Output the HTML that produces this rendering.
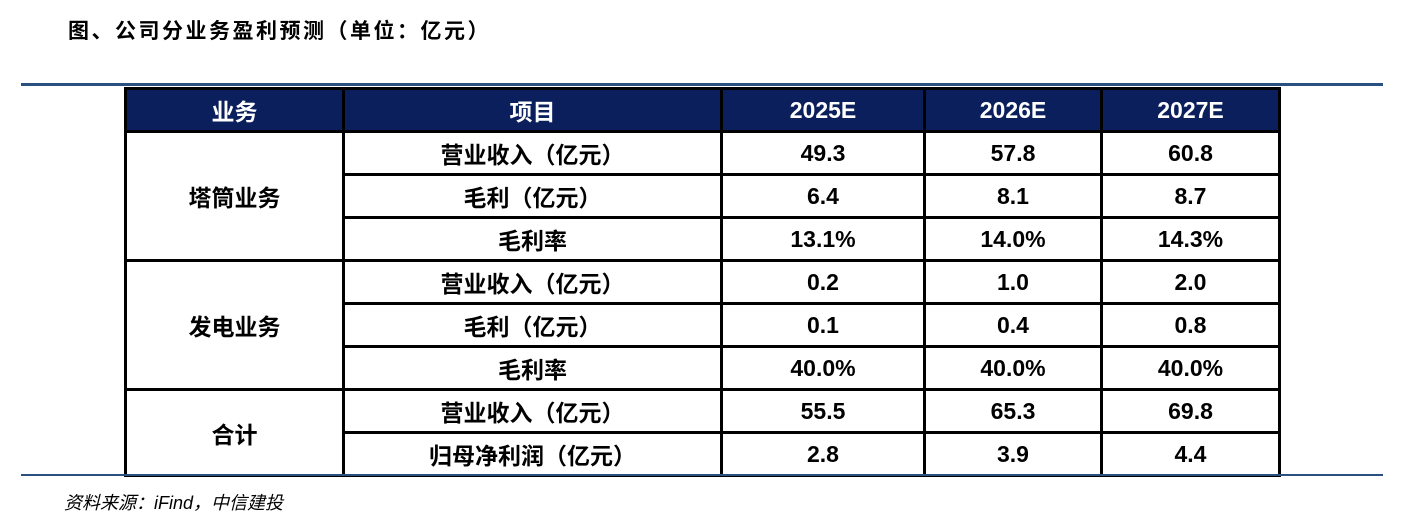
<!DOCTYPE html>
<html><head><meta charset="utf-8"><style>
body{margin:0;width:1406px;height:522px;background:#fff;position:relative;overflow:hidden;font-family:"Liberation Sans","Noto Sans CJK SC",sans-serif;}
.title{position:absolute;left:68px;top:15px;font-size:21px;letter-spacing:2.5px;font-weight:bold;color:#000;}
.line{position:absolute;background:#2a5080;}
table{position:absolute;left:124px;top:87px;border-collapse:collapse;table-layout:fixed;}
td,th{border:3px solid #000;text-align:center;font-size:23px;font-weight:bold;padding:0;height:40px;color:#000;}
th{background:#0b1f5c;color:#fff;border-color:#000;}
th+th{border-left:3px solid #fff;}
.src{position:absolute;left:64px;top:489px;font-size:18px;font-style:italic;color:#000;}
</style></head><body>
<div class="title">图、公司分业务盈利预测（单位：亿元）</div>
<div class="line" style="left:21px;top:83px;width:1362px;height:3px"></div>
<table>
<colgroup><col style="width:218px"><col style="width:378px"><col style="width:203px"><col style="width:177px"><col style="width:178px"></colgroup>
<tr><th>业务</th><th>项目</th><th>2025E</th><th>2026E</th><th>2027E</th></tr>
<tr><td rowspan="3">塔筒业务</td><td>营业收入（亿元）</td><td>49.3</td><td>57.8</td><td>60.8</td></tr>
<tr><td>毛利（亿元）</td><td>6.4</td><td>8.1</td><td>8.7</td></tr>
<tr><td>毛利率</td><td>13.1%</td><td>14.0%</td><td>14.3%</td></tr>
<tr><td rowspan="3">发电业务</td><td>营业收入（亿元）</td><td>0.2</td><td>1.0</td><td>2.0</td></tr>
<tr><td>毛利（亿元）</td><td>0.1</td><td>0.4</td><td>0.8</td></tr>
<tr><td>毛利率</td><td>40.0%</td><td>40.0%</td><td>40.0%</td></tr>
<tr><td rowspan="2">合计</td><td>营业收入（亿元）</td><td>55.5</td><td>65.3</td><td>69.8</td></tr>
<tr><td>归母净利润（亿元）</td><td>2.8</td><td>3.9</td><td>4.4</td></tr>
</table>
<div class="line" style="left:21px;top:474px;width:1362px;height:2px"></div>
<div class="src">资料来源：iFind，中信建投</div>
</body></html>
